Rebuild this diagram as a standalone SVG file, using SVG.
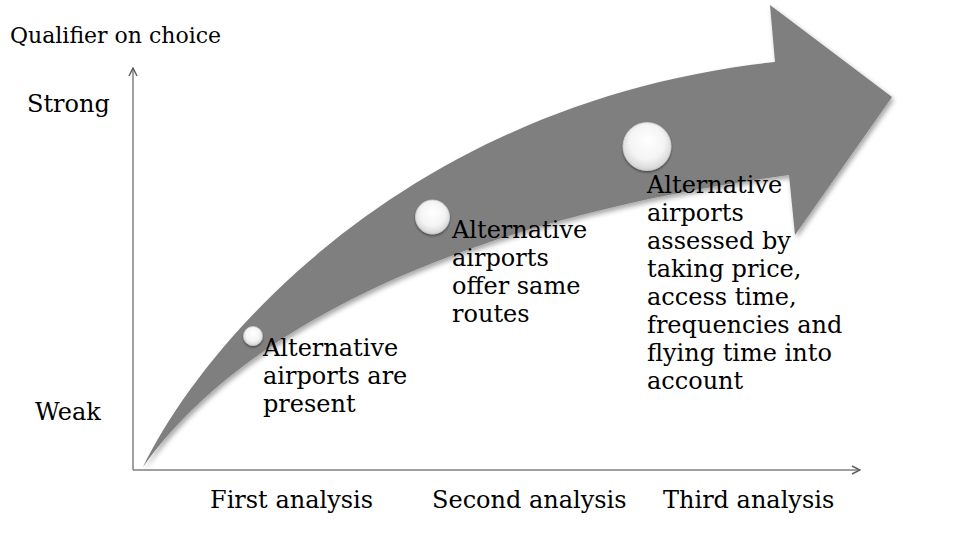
<svg xmlns="http://www.w3.org/2000/svg" width="974" height="535" viewBox="0 0 974 535">
<style>
  .t { font-family: "DejaVu Serif", "Liberation Serif", serif; font-size: 24px; fill: #000; }
  .ax { stroke: #808080; stroke-width: 1.5; fill: none; }
  .dot { fill: url(#sphere); stroke: #d0d0d0; stroke-width: 0.8; filter: url(#dotShadow); }
</style>
<defs>
  <marker id="open" viewBox="0 0 10 10" refX="9" refY="5" markerWidth="10" markerHeight="10" markerUnits="userSpaceOnUse" orient="auto">
    <path d="M1,1 L9,5 L1,9" fill="none" stroke="#606060" stroke-width="1.5"/>
  </marker>
  <radialGradient id="sphere" cx="0.5" cy="0.45" r="0.6" fx="0.5" fy="0.35">
    <stop offset="0" stop-color="#ffffff"/>
    <stop offset="0.6" stop-color="#f4f4f4"/>
    <stop offset="0.85" stop-color="#dcdcdc"/>
    <stop offset="1" stop-color="#bdbdbd"/>
  </radialGradient>
  <filter id="shadow" x="-10%" y="-10%" width="120%" height="120%">
    <feDropShadow dx="2" dy="3" stdDeviation="2.5" flood-color="#000" flood-opacity="0.35"/>
  </filter>
  <filter id="dotShadow" x="-30%" y="-30%" width="160%" height="160%">
    <feDropShadow dx="0" dy="1.5" stdDeviation="1.2" flood-color="#000" flood-opacity="0.45"/>
  </filter>
</defs>
<rect width="974" height="535" fill="#ffffff"/>

<g id="connectors">
  <line class="ax" x1="133" y1="470" x2="133" y2="68" marker-end="url(#open)"/>
  <line class="ax" x1="133" y1="470" x2="860" y2="470" marker-end="url(#open)"/>
</g>

<g id="big-arrow">
  <path d="M143,467 C210,330 420,100 775,62 L770,5 L892,97 L795,235 L789,175 C420,225 225,350 143,467 Z" fill="#7f7f7f" filter="url(#shadow)"/>
</g>

<g id="axis-labels">
  <text class="t" x="10" y="43" style="font-size:22px">Qualifier on choice</text>
  <text class="t" x="27" y="112">Strong</text>
  <text class="t" x="35" y="420">Weak</text>
  <text class="t" x="210" y="508">First analysis</text>
  <text class="t" x="432" y="508">Second analysis</text>
  <text class="t" x="663" y="508">Third analysis</text>
</g>

<g id="stage1">
  <circle class="dot" cx="253" cy="336" r="9.5"/>
  <text class="t" x="263" y="356">Alternative</text>
  <text class="t" x="263" y="384">airports are</text>
  <text class="t" x="263" y="412">present</text>
</g>

<g id="stage2">
  <circle class="dot" cx="432.5" cy="217" r="17"/>
  <text class="t" x="452" y="238">Alternative</text>
  <text class="t" x="452" y="266">airports</text>
  <text class="t" x="452" y="294">offer same</text>
  <text class="t" x="452" y="322">routes</text>
</g>

<g id="stage3">
  <circle class="dot" cx="647" cy="146.5" r="24"/>
  <text class="t" x="647" y="193">Alternative</text>
  <text class="t" x="647" y="221">airports</text>
  <text class="t" x="647" y="249">assessed by</text>
  <text class="t" x="647" y="277">taking price,</text>
  <text class="t" x="647" y="305">access time,</text>
  <text class="t" x="647" y="333">frequencies and</text>
  <text class="t" x="647" y="361">flying time into</text>
  <text class="t" x="647" y="389">account</text>
</g>
</svg>
